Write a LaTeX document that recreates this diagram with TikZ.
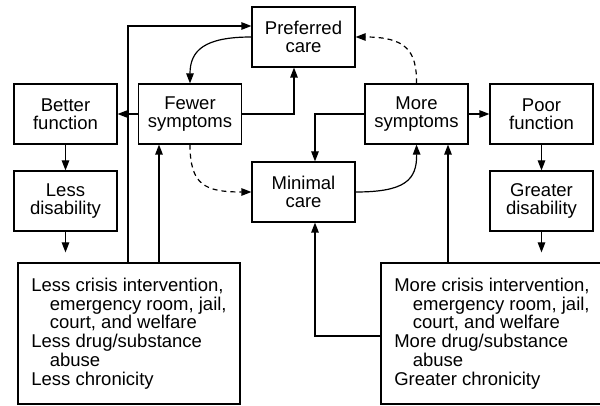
\documentclass[tikz,border=0pt]{standalone}
\usepackage{fontspec}
\setmainfont{Liberation Sans}
\usetikzlibrary{arrows.meta}
\begin{document}
\begin{tikzpicture}[x=1pt,y=-1pt,
  line width=1.2pt,
  box/.style={draw, minimum width=103pt, minimum height=60pt, align=center,
    inner sep=0pt, font=\fontsize{18.5}{18.5}\selectfont},
  bigbox/.style={draw, minimum width=222pt, minimum height=141pt, align=left,
    inner sep=0pt, font=\fontsize{18.5}{18.8}\selectfont},
  arr/.style={-{Triangle[length=10pt,width=7.5pt]}},
  dsh/.style={arr, dash pattern=on 5pt off 4pt}
]
\clip (0,0) rectangle (600,406);

% boxes
\node[box] (preferred) at (303.5,37)  {Preferred\\care};
\node[box] (better)    at (65.5,114)  {Better\\function};
\node[box] (fewer)     at (190,114)   {Fewer\\symptoms};
\node[box] (lessdis)   at (65.5,201)  {Less\\disability};
\node[box] (minimal)   at (303.5,192) {Minimal\\care};
\node[box] (moresym)   at (416.5,114) {More\\symptoms};
\node[box] (poor)      at (541.5,114) {Poor\\function};
\node[box] (greater)   at (541.5,201) {Greater\\disability};

\node[bigbox] (lesscrisis) at (129,333.5) {Less crisis intervention,\\
  \hspace*{18.5pt}emergency room, jail,\\
  \hspace*{18.5pt}court, and welfare\\
  Less drug/substance\\
  \hspace*{18.5pt}abuse\\
  Less chronicity};
\node[bigbox] (morecrisis) at (492,333.5) {More crisis intervention,\\
  \hspace*{18.5pt}emergency room, jail,\\
  \hspace*{18.5pt}court, and welfare\\
  More drug/substance\\
  \hspace*{18.5pt}abuse\\
  Greater chronicity};

% helper points on box edges
\path ([xshift=-1pt]lesscrisis.north) coordinate (lcA)
      ([xshift=30pt]lesscrisis.north) coordinate (lcB)
      ([xshift=31.5pt]moresym.south) coordinate (msB)
      ([xshift=11.5pt]minimal.south) coordinate (mnB)
      ([xshift=11.5pt]minimal.north) coordinate (mnT)
      ([xshift=-9.5pt]preferred.south) coordinate (prB)
      ([yshift=11pt]preferred.west) coordinate (prW)
      (lessdis.south |- lesscrisis.north) coordinate (lcL)
      (greater.south |- morecrisis.north) coordinate (mcR);

% left side
\draw[arr] (preferred.west) .. controls (205,37) and (190,50) .. (fewer.north);
\draw[arr] (fewer.east) -| (prB);
\draw[arr] (fewer.west) -- (better.east);
\draw[arr] (better.south) -- (lessdis.north);
\draw[arr] (lessdis.south) -- ([yshift=10pt]lcL);
\draw[arr] (lcA) |- (prW);
\draw[arr] (lcB) -- (lcB |- fewer.south);
\draw[dsh] (fewer.south) .. controls (190,185) and (205,192) .. (minimal.west);

% right side
\draw[dsh] (moresym.north) .. controls (417,50) and (405,37) .. (preferred.east);
\draw[arr] (moresym.west) -| (mnT);
\draw[arr] (minimal.east) .. controls (405,192) and (417,180) .. (moresym.south);
\draw[arr] (moresym.east) -- (poor.west);
\draw[arr] (poor.south) -- (greater.north);
\draw[arr] (greater.south) -- ([yshift=10pt]mcR);
\draw[arr] (msB |- morecrisis.north) -- (msB);
\draw[arr] ([yshift=-2.5pt]morecrisis.west) -| (mnB);
\end{tikzpicture}
\end{document}
